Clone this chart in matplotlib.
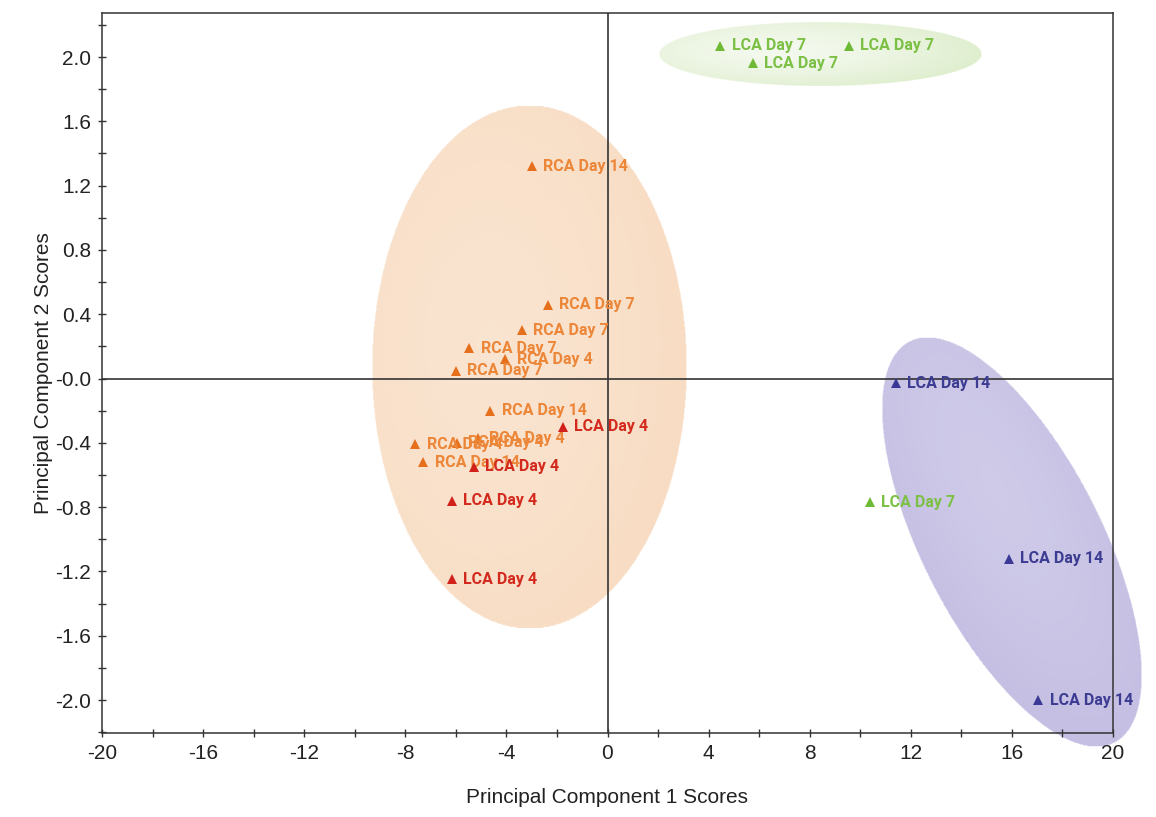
import numpy as np
import matplotlib
matplotlib.use("Agg")
import matplotlib.pyplot as plt
from matplotlib.ticker import MultipleLocator

# PCA scores
lca4_x = [-1.78, -5.30, -6.17, -6.17]
lca4_y = [-0.30, -0.55, -0.76, -1.25]
lca7_x = [4.47, 9.54, 5.74, 10.40]
lca7_y = [2.07, 2.07, 1.96, -0.77]
lca14_x = [11.40, 15.90, 17.05]
lca14_y = [-0.03, -1.12, -2.00]
rca4_x = [-4.04, -5.14, -5.97, -7.60]
rca4_y = [0.12, -0.37, -0.40, -0.41]
rca7_x = [-2.37, -3.40, -5.46, -6.01]
rca7_y = [0.46, 0.30, 0.19, 0.05]
rca14_x = [-3.00, -4.63, -7.28]
rca14_y = [1.32, -0.20, -0.52]

groups = [
    ("RCA Day 4", rca4_x, rca4_y, "#e66f1c", "#ec8638"),
    ("RCA Day 7", rca7_x, rca7_y, "#e66f1c", "#ec8638"),
    ("RCA Day 14", rca14_x, rca14_y, "#e66f1c", "#ec8638"),
    ("LCA Day 4", lca4_x, lca4_y, "#d2201a", "#d42a1e"),
    ("LCA Day 7", lca7_x, lca7_y, "#6fba35", "#7cc045"),
    ("LCA Day 14", lca14_x, lca14_y, "#3a3a96", "#3c3c92"),
]

W, H = 1156, 817
fig = plt.figure(figsize=(W / 100, H / 100), dpi=100)
ax = fig.add_axes([102 / W, (H - 733) / H, 1011 / W, 720 / H])
xlim = (-20, 20)
ylim = (-2.205, 2.274)
ax.set_xlim(*xlim)
ax.set_ylim(*ylim)

# pixels per data unit, used to shape the group ellipses
sx = 1011 / (xlim[1] - xlim[0])
sy = 720 / (ylim[1] - ylim[0])


def shade(cx, cy, w_px, h_px, ang, rgb, a_in, a_out, clip=True):
    a, b = w_px / 2, h_px / 2
    t = np.radians(ang)
    hx = np.sqrt((a * np.cos(t)) ** 2 + (b * np.sin(t)) ** 2)
    hy = np.sqrt((a * np.sin(t)) ** 2 + (b * np.cos(t)) ** 2)
    n = 500
    px = np.linspace(-hx, hx, n)
    py = np.linspace(-hy, hy, n)
    PX, PY = np.meshgrid(px, py)
    u = PX * np.cos(t) + PY * np.sin(t)
    v = -PX * np.sin(t) + PY * np.cos(t)
    r = np.sqrt((u / a) ** 2 + (v / b) ** 2)
    # slightly off-centre highlight (lighter towards upper-left)
    rh = np.sqrt(((u + 0.25 * a) / a) ** 2 + ((v - 0.1 * b) / b) ** 2)
    alpha = a_in + (a_out - a_in) * np.clip(rh / 1.25, 0, 1) ** 1.5
    img = np.zeros((n, n, 4))
    img[..., :3] = np.array(rgb) / 255
    img[..., 3] = np.where(r <= 1, alpha, 0)
    im = ax.imshow(img, extent=(cx - hx / sx, cx + hx / sx, cy - hy / sy, cy + hy / sy),
                   origin="lower", aspect="auto", interpolation="bilinear", zorder=1)
    im.set_clip_on(clip)


shade(-3.09, 0.07, 314, 524, 0, (238, 170, 108), 0.32, 0.41)
shade(8.43, 2.02, 323, 64, 0, (180, 215, 140), 0.15, 0.42)
shade(16.0, -1.02, 450, 179, -63, (150, 140, 205), 0.46, 0.56, clip=False)

# zero lines
ax.axhline(0, color="#333333", lw=1.2, zorder=2)
ax.axvline(0, color="#333333", lw=1.2, zorder=2)

for name, xs, ys, mcol, tcol in groups:
    ax.plot(xs, ys, "^", color=mcol, ms=7.5, mew=0, zorder=3)
    for x, y in zip(xs, ys):
        ax.annotate(name, (x, y), xytext=(8, 0), textcoords="offset points",
                    va="center", ha="left", color=tcol, fontsize=11.5,
                    fontweight="bold", family="Roboto", zorder=3)

ax.xaxis.set_minor_locator(MultipleLocator(2))
ax.yaxis.set_minor_locator(MultipleLocator(0.2))
yt = np.arange(-2.0, 2.01, 0.4)
ax.set_yticks(yt)
ax.set_yticklabels([f"{v:.1f}" if abs(v) > 1e-9 else "-0.0" for v in yt])
ax.set_xticks(np.arange(-20, 21, 4))
ax.set_xticklabels([str(v) for v in range(-20, 21, 4)])
ax.tick_params(which="both", direction="inout", length=6, width=1, color="#333333",
               labelsize=15, labelcolor="#222222", pad=5)
for lab in ax.get_xticklabels() + ax.get_yticklabels():
    lab.set_family("Liberation Sans")

for s in ax.spines.values():
    s.set_color("#333333")
    s.set_linewidth(1.1)
    s.set_zorder(6)

ax.set_xlabel("Principal Component 1 Scores", fontsize=15, family="Liberation Sans",
              color="#222222", labelpad=18)
ax.set_ylabel("Principal Component 2 Scores", fontsize=15, family="Liberation Sans",
              color="#222222", labelpad=1)
ax.set_xlim(*xlim)
ax.set_ylim(*ylim)

fig.savefig("out.png", dpi=100)
